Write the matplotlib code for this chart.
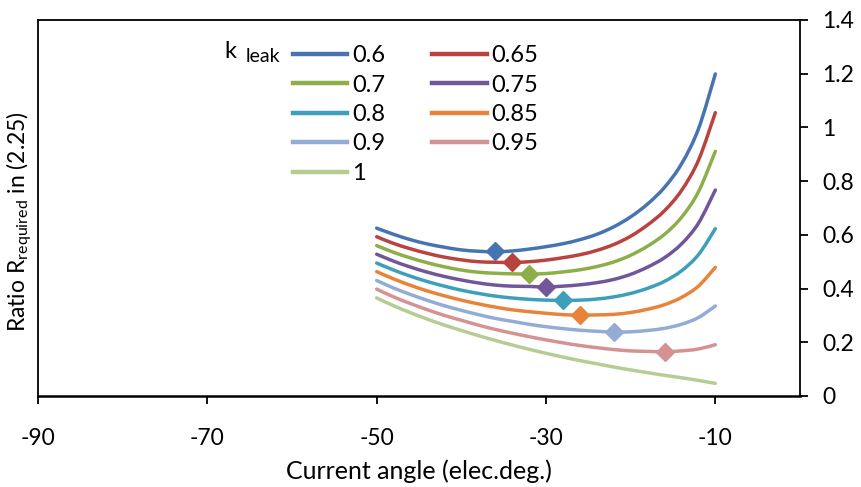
import matplotlib
matplotlib.use("Agg")
import matplotlib.pyplot as plt
from matplotlib.path import Path
from matplotlib.patches import PathPatch
from matplotlib.lines import Line2D

plt.rcParams['font.family'] = ['Lato', 'DejaVu Sans']

# ---- data ----
angles = [-50, -48, -46, -44, -42, -40, -38, -36, -34, -32, -30,
          -28, -26, -24, -22, -20, -18, -16, -14, -12, -10]

k_labels = ['0.6', '0.65', '0.7', '0.75', '0.8', '0.85', '0.9', '0.95', '1']

r_060 = [0.625, 0.602, 0.582, 0.566, 0.554, 0.544, 0.539, 0.537, 0.540, 0.547, 0.556,
         0.567, 0.582, 0.602, 0.630, 0.667, 0.715, 0.777, 0.864, 0.994, 1.199]
r_065 = [0.593, 0.568, 0.548, 0.531, 0.517, 0.507, 0.500, 0.498, 0.497, 0.500, 0.506,
         0.515, 0.526, 0.542, 0.564, 0.595, 0.637, 0.690, 0.765, 0.877, 1.055]
r_070 = [0.560, 0.535, 0.514, 0.496, 0.481, 0.469, 0.461, 0.457, 0.455, 0.454, 0.456,
         0.462, 0.470, 0.482, 0.499, 0.524, 0.558, 0.602, 0.665, 0.760, 0.911]
r_075 = [0.528, 0.502, 0.480, 0.461, 0.445, 0.432, 0.421, 0.413, 0.409, 0.408, 0.406,
         0.409, 0.414, 0.422, 0.434, 0.453, 0.480, 0.515, 0.566, 0.643, 0.767]
r_080 = [0.495, 0.469, 0.446, 0.426, 0.409, 0.394, 0.382, 0.372, 0.365, 0.360, 0.357,
         0.356, 0.357, 0.361, 0.369, 0.382, 0.401, 0.427, 0.466, 0.526, 0.623]
r_085 = [0.463, 0.436, 0.412, 0.391, 0.373, 0.357, 0.343, 0.331, 0.321, 0.314, 0.308,
         0.303, 0.301, 0.302, 0.304, 0.311, 0.323, 0.340, 0.367, 0.409, 0.479]
r_090 = [0.430, 0.402, 0.378, 0.356, 0.336, 0.319, 0.303, 0.289, 0.278, 0.267, 0.258,
         0.251, 0.245, 0.241, 0.238, 0.239, 0.244, 0.252, 0.267, 0.292, 0.335]
r_095 = [0.398, 0.369, 0.344, 0.321, 0.300, 0.282, 0.264, 0.248, 0.234, 0.221, 0.209,
         0.198, 0.188, 0.180, 0.173, 0.168, 0.166, 0.165, 0.168, 0.175, 0.191]
r_100 = [0.365, 0.336, 0.310, 0.286, 0.264, 0.244, 0.225, 0.207, 0.190, 0.174, 0.159,
         0.145, 0.132, 0.120, 0.108, 0.097, 0.087, 0.077, 0.068, 0.058, 0.047]

series = [r_060, r_065, r_070, r_075, r_080, r_085, r_090, r_095, r_100]

# minimum points marked with diamonds (angle, value)
min_angles = [-36, -34, -32, -30, -28, -26, -22, -16]
min_values = [0.540, 0.499, 0.456, 0.406, 0.356, 0.301, 0.239, 0.165]

x_ticks = [-90, -70, -50, -30, -10]
y_ticks = [0, 0.2, 0.4, 0.6, 0.8, 1.0, 1.2, 1.4]
y_ticklabels = ['0', '0.2', '0.4', '0.6', '0.8', '1', '1.2', '1.4']

colors = ['#4674B0', '#B8433F', '#8DAF4A', '#715799', '#3E9FBB', '#E8843A',
          '#93ACD5', '#D49392', '#B5CD93']


def smooth_path(xs, ys):
    """Excel-style smoothed line: cubic Bezier segments through the points."""
    pts = list(zip(xs, ys))
    n = len(pts)
    verts = [pts[0]]
    codes = [Path.MOVETO]
    for i in range(n - 1):
        p0 = pts[i - 1] if i > 0 else pts[i]
        p1 = pts[i]
        p2 = pts[i + 1]
        p3 = pts[i + 2] if i + 2 < n else pts[i + 1]
        c1 = (p1[0] + (p2[0] - p0[0]) / 6, p1[1] + (p2[1] - p0[1]) / 6)
        c2 = (p2[0] - (p3[0] - p1[0]) / 6, p2[1] - (p3[1] - p1[1]) / 6)
        verts += [c1, c2, p2]
        codes += [Path.CURVE4] * 3
    return Path(verts, codes)


# ---- figure ----
W, H = 862, 487
fig = plt.figure(figsize=(W / 100, H / 100), dpi=100)
ax = fig.add_axes([38 / W, 1 - 396 / H, (800 - 38) / W, (396 - 20) / H])

LW = 2.5
handles = {}
for lab, ys, c in zip(k_labels, series, colors):
    patch = PathPatch(smooth_path(angles, ys), facecolor='none', edgecolor=c,
                      lw=LW, capstyle='round', joinstyle='round', zorder=3)
    ax.add_patch(patch)
    handles[lab] = Line2D([], [], color=c, lw=3.2)
for xm, ym, c in zip(min_angles, min_values, colors):
    ax.plot([xm], [ym], marker='D', ms=9, color=c, mec=c, zorder=4)

ax.set_xlim(-90, 0)
ax.set_ylim(0, 1.4)
ax.set_xticks(x_ticks)
ax.set_xticklabels([str(v) for v in x_ticks])
ax.set_yticks(y_ticks)
ax.set_yticklabels(y_ticklabels)
ax.yaxis.tick_right()
ax.tick_params(axis='x', direction='out', length=6, width=1.3, pad=17,
               labelsize=16.5, colors='black')
ax.tick_params(axis='y', direction='out', length=6, width=1.3, pad=10,
               labelsize=16.5, colors='black')
for sp in ax.spines.values():
    sp.set_linewidth(1.3)
    sp.set_color('black')
ax.spines['bottom'].set_linewidth(1.8)

# legend: two columns, filled row-wise like the reference
order = ['0.6', '0.7', '0.8', '0.9', '1', '0.65', '0.75', '0.85', '0.95']
leg = ax.legend([handles[k] for k in order], order, ncol=2, frameon=False,
                loc='upper left', bbox_to_anchor=(293 / W, 1 - 45 / H),
                bbox_transform=fig.transFigure, fontsize=17,
                handlelength=2.3, handletextpad=0.2, columnspacing=2.0,
                labelspacing=0.36, borderpad=0, borderaxespad=0)

fig.text(224 / W, 1 - 52 / H, 'k', fontsize=17, ha='left', va='center')
fig.text(246 / W, 1 - 57 / H, 'leak', fontsize=14, ha='left', va='center')

fig.text(419 / W, 1 - 471 / H, 'Current angle (elec.deg.)', fontsize=18,
         ha='center', va='center')
fig.text(20 / W, 1 - 222 / H, r'Ratio R$_{\mathregular{required}}$ in (2.25)',
         fontsize=16.5, rotation=90, ha='center', va='center')

fig.savefig('out.png', dpi=100)
